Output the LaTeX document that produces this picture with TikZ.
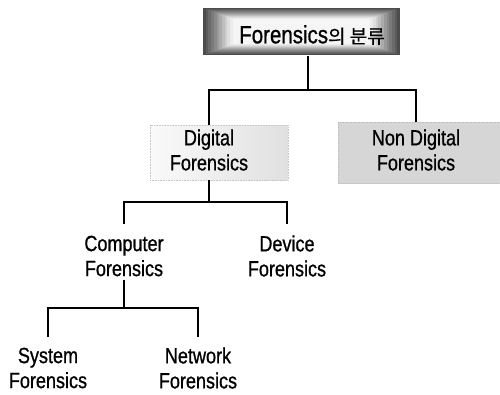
\documentclass[tikz,border=0pt]{standalone}
\usepackage{fontspec}
\setmainfont{Liberation Sans}[FakeStretch=0.82,FakeBold=0.8]
\newfontfamily\kr{Noto Sans CJK KR}[FakeBold=0.5]
\begin{document}
\begin{tikzpicture}[x=1pt,y=-1pt,line width=1.4pt,
  lab/.style={font=\fontsize{22}{25}\selectfont,align=center,inner sep=0pt},
  conn/.style={line width=1.4pt,black}]
\useasboundingbox (0,0) rectangle (500,394);
% root box shading (layers)
\foreach \i/\c in {0/70,1/64,2/58,3/52,4/46,5/40,6/33,7/26,8/19,9/13,10/8,11/4}
  \fill[black!\c] (203+2.7*\i,8+1*\i) rectangle (400-2.7*\i,55-1*\i);
\node[minimum width=197pt,minimum height=47pt,inner sep=0pt] (rbox) at (301.5,31.5) {};
\node[font=\fontsize{25}{28}\selectfont,inner sep=0pt] (root) at (312,35)
  {Forensics{\kr\fontsize{19}{20}\selectfont 의 분류}};
% level 1 boxes
\node[minimum width=138pt,minimum height=55pt,inner sep=0pt,
  left color=black!2,right color=black!12,draw=black!22,densely dotted,line width=0.6pt]
  (dbox) at (219,152.5) {};
\node[minimum width=162pt,minimum height=61pt,inner sep=0pt,
  left color=black!16,middle color=black!6,right color=black!16,draw=black!25,densely dotted,line width=0.6pt]
  (ndbox) at (419,152.5) {};
\node[lab] (dig) at (209,150) {Digital\\Forensics};
\node[lab] (ndig) at (416,150) {Non Digital\\Forensics};
% level 2
\node[lab] (comp) at (124,256) {Computer\\Forensics};
\node[lab] (dev) at (287,256) {Device\\Forensics};
% level 3
\node[lab] (sys) at (48,368) {System\\Forensics};
\node[lab] (net) at (198,368) {Network\\Forensics};
% connectors
\coordinate (j1) at (308,90);
\draw[conn] (j1 |- rbox.south) -- (j1);
\draw[conn] (dig |- dbox.north) |- (j1) -| (ndig |- ndbox.north);
\coordinate (j2) at (dig |- 0,202);
\draw[conn] (dig |- dbox.south) -- (j2);
\draw[conn,shorten <=11pt,shorten >=11pt] (comp.north) |- (j2) -| (dev.north);
\coordinate (j3) at (comp |- 0,308);
\draw[conn,shorten <=3pt] (comp.south) -- (j3);
\draw[conn,shorten <=10pt,shorten >=10pt] (sys.north) |- (j3) -| (net.north);
\end{tikzpicture}
\end{document}
